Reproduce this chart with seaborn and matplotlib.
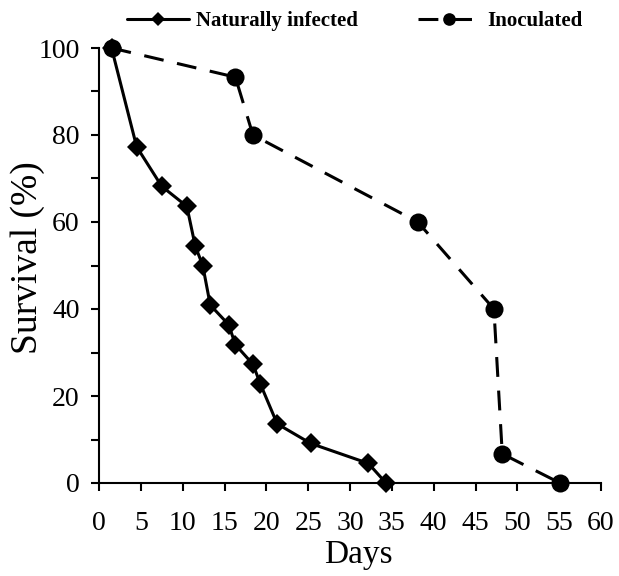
import matplotlib
matplotlib.use("Agg")
import matplotlib.pyplot as plt
import seaborn as sns
import pandas as pd
from matplotlib.ticker import MultipleLocator

sns.set_theme(style="ticks")
plt.rcParams['font.family'] = ['Liberation Serif', 'DejaVu Serif']
plt.rcParams['text.color'] = 'black'
plt.rcParams['axes.labelcolor'] = 'black'
plt.rcParams['xtick.color'] = 'black'
plt.rcParams['ytick.color'] = 'black'

nat_days = [1.5, 4.5, 7.5, 10.5, 11.5, 12.4, 13.3, 15.5, 16.3, 18.4, 19.3, 21.3, 25.3, 32.2, 34.3]
nat_surv = [100, 77.3, 68.2, 63.6, 54.5, 50.0, 40.9, 36.4, 31.8, 27.3, 22.7, 13.6, 9.1, 4.5, 0]
ino_days = [1.5, 16.3, 18.4, 38.1, 47.2, 48.2, 55.1]
ino_surv = [100, 93.3, 80.0, 60.0, 40.0, 6.7, 0]
x_ticks = [0, 5, 10, 15, 20, 25, 30, 35, 40, 45, 50, 55, 60]
y_ticks = [0, 20, 40, 60, 80, 100]

nat = pd.DataFrame({"Days": nat_days, "Survival": nat_surv})
ino = pd.DataFrame({"Days": ino_days, "Survival": ino_surv})

fig = plt.figure(figsize=(6.19, 5.76), dpi=100)
ax = fig.add_axes([99/619, 93/576, 502/619, 435/576])

dash_style = (0, (6.5, 4))
sns.lineplot(data=nat, x="Days", y="Survival", ax=ax, color="black", sort=False,
             marker="D", markersize=10, linewidth=2.2, markeredgewidth=0,
             label="Naturally infected", clip_on=False)
sns.lineplot(data=ino, x="Days", y="Survival", ax=ax, color="black", sort=False,
             marker="o", markersize=13, linewidth=2.2, markeredgewidth=0,
             label="Inoculated", clip_on=False)
ax.lines[1].set_linestyle(dash_style)

ax.set_xlim(0, 60)
ax.set_ylim(0, 100)
ax.set_xticks(x_ticks)
ax.set_yticks(y_ticks)
ax.yaxis.set_minor_locator(MultipleLocator(10))
ax.tick_params(axis="both", which="both", direction="out", length=6, width=1.5,
               colors="black", labelsize=20, pad=8)
ax.tick_params(axis="x", pad=14)
ax.set_xlabel("Days", fontsize=24)
ax.set_ylabel("Survival (%)", fontsize=27)
ax.xaxis.set_label_coords((358 - 99) / 502, -(555 - 483) / 435)
ax.yaxis.set_label_coords((28 - 99) / 502, (483 - 258) / 435)
ax.xaxis.label.set_va("center")
ax.yaxis.label.set_va("center")
for s in ["top", "right"]:
    ax.spines[s].set_visible(False)
for s in ["left", "bottom"]:
    ax.spines[s].set_linewidth(1.5)
    ax.spines[s].set_color("black")

ax.get_legend().remove()
h, l = ax.get_legend_handles_labels()
h[1].set_linestyle((0, (6.5, 4.5)))
fig.legend(h, l, loc="center", bbox_to_anchor=(354.5 / 619, 1 - 21/576), ncol=2, frameon=False,
           prop={"family": "Liberation Serif", "weight": "bold", "size": 15},
           handlelength=3.0, columnspacing=2.85, handletextpad=0.33, markerscale=0.7,
           borderaxespad=0, borderpad=0)

fig.savefig("out.png", dpi=100)
